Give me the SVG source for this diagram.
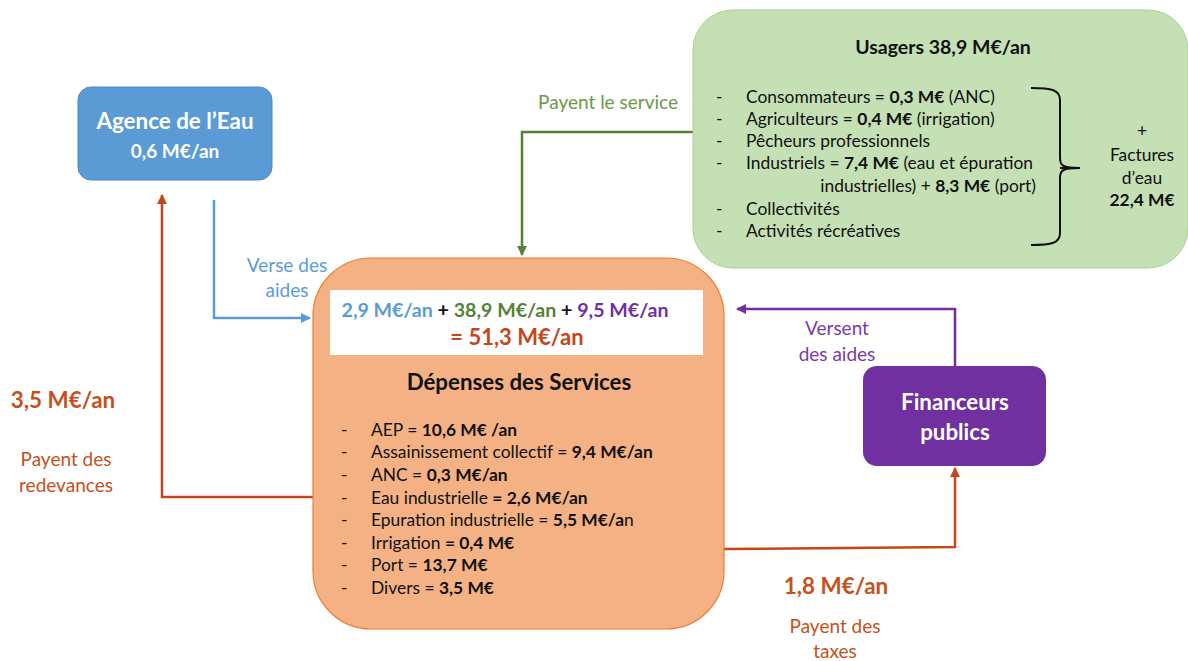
<svg xmlns="http://www.w3.org/2000/svg" width="1188" height="661" viewBox="0 0 1188 661">
<style>
text{font-family:Lato,"Open Sans","Liberation Sans",sans-serif}
.b{font-weight:bold}
.w{fill:#fff}
.k{fill:#111;font-size:17.4px}
.c{text-anchor:middle}
.red{fill:#C5501A}
.conn{fill:none;stroke-width:2.5}
</style>
<defs>
<marker id="aB" viewBox="0 0 10 10" refX="9" refY="5" markerWidth="4" markerHeight="4" orient="auto"><path d="M0,0L10,5L0,10z" fill="#5B9BD5"/></marker>
<marker id="aG" viewBox="0 0 10 10" refX="9" refY="5" markerWidth="4" markerHeight="4" orient="auto"><path d="M0,0L10,5L0,10z" fill="#538135"/></marker>
<marker id="aP" viewBox="0 0 10 10" refX="9" refY="5" markerWidth="4" markerHeight="4" orient="auto"><path d="M0,0L10,5L0,10z" fill="#7030A0"/></marker>
<marker id="aR" viewBox="0 0 10 10" refX="9" refY="5" markerWidth="4" markerHeight="4" orient="auto"><path d="M0,0L10,5L0,10z" fill="#C5461A"/></marker>
</defs>
<rect width="1188" height="661" fill="#fff"/>
<g id="connectors">
<path class="conn" d="M214,200V318H310" stroke="#5B9BD5" marker-end="url(#aB)"/>
<path class="conn" d="M693,132H522V255" stroke="#538135" marker-end="url(#aG)"/>
<path class="conn" d="M955,366V309H737" stroke="#7030A0" marker-end="url(#aP)"/>
<path class="conn" d="M313,497H162V195" stroke="#C5461A" marker-end="url(#aR)"/>
<path class="conn" d="M724,549L955,547V468" stroke="#C5461A" marker-end="url(#aR)"/>
<text x="287" y="272" class="c" font-size="19" fill="#5B9BD5">Verse des</text>
<text x="287" y="297" class="c" font-size="19" fill="#5B9BD5">aides</text>
<text x="678" y="109" font-size="19" fill="#6B9A48" text-anchor="end">Payent le service</text>
<text x="837" y="335" class="c" font-size="19" fill="#7A3AA8">Versent</text>
<text x="837" y="361" class="c" font-size="19" fill="#7A3AA8">des aides</text>
<text x="63" y="408" class="c b red" font-size="22.4">3,5 M€/an</text>
<text x="66" y="466" class="c red" font-size="19">Payent des</text>
<text x="66" y="492" class="c red" font-size="19">redevances</text>
<text x="836" y="594" class="c b red" font-size="22.4">1,8 M€/an</text>
<text x="835" y="633" class="c red" font-size="19">Payent des</text>
<text x="835" y="658" class="c red" font-size="19">taxes</text>
</g>
<g id="agence">
<rect x="78" y="87" width="194" height="93" rx="13" fill="#5B9BD5" stroke="#4A88C2" stroke-width="1"/>
<text x="175" y="129" class="c b w" font-size="22.4">Agence de l’Eau</text>
<text x="175" y="158" class="c b w" font-size="19">0,6 M€/an</text>
</g>
<g id="usagers">
<rect x="693" y="10" width="495" height="258" rx="40" fill="#C5E0B4" stroke="#A9D18E" stroke-width="1"/>
<text x="943" y="54" class="c b" font-size="19.5" fill="#111">Usagers 38,9 M€/an</text>
<g class="k">
<text x="716" y="103">-</text><text x="746" y="103">Consommateurs = <tspan class="b">0,3 M€</tspan> (ANC)</text>
<text x="716" y="125">-</text><text x="746" y="125">Agriculteurs = <tspan class="b">0,4 M€</tspan> (irrigation)</text>
<text x="716" y="147">-</text><text x="746" y="147">Pêcheurs professionnels</text>
<text x="716" y="169">-</text><text x="746" y="169">Industriels = <tspan class="b">7,4 M€</tspan> (eau et épuration</text>
<text x="1036" y="192" text-anchor="end">industrielles) + <tspan class="b">8,3 M€</tspan> (port)</text>
<text x="716" y="215">-</text><text x="746" y="215">Collectivités</text>
<text x="716" y="237">-</text><text x="746" y="237">Activités récréatives</text>
</g>
<path d="M1031,88C1052,88 1060,90 1060,100V158C1060,166 1063,168 1080,168C1063,168 1060,170 1060,178V233C1060,243 1052,245 1031,245" fill="none" stroke="#111" stroke-width="2"/>
<path d="M1060,168H1080" stroke="#111" stroke-width="2"/>
<g class="k c">
<text x="1142" y="137">+</text>
<text x="1142" y="161">Factures</text>
<text x="1142" y="184">d’eau</text>
<text x="1142" y="206" class="b">22,4 M€</text>
</g>
</g>
<g id="depenses">
<rect x="313" y="258" width="411" height="371" rx="58" fill="#F4B183" stroke="#ED7D31" stroke-width="1.2"/>
<rect x="330" y="290" width="373" height="65" fill="#fff"/>
<text x="505" y="317" class="c b" font-size="19.6"><tspan fill="#5B9BD5">2,9 M€/an</tspan><tspan fill="#111"> + </tspan><tspan fill="#548235">38,9 M€/an</tspan><tspan fill="#111"> + </tspan><tspan fill="#7030A0">9,5 M€/an</tspan></text>
<text x="517" y="345" class="c b" font-size="22" fill="#C5461A">= 51,3 M€/an</text>
<text x="519" y="390" class="c b" font-size="22.3" fill="#111">Dépenses des Services</text>
<g class="k">
<text x="341" y="436">-</text><text x="371" y="436">AEP = <tspan class="b">10,6 M€ /an</tspan></text>
<text x="341" y="458">-</text><text x="371" y="458">Assainissement collectif = <tspan class="b">9,4 M€/an</tspan></text>
<text x="341" y="481">-</text><text x="371" y="481">ANC = <tspan class="b">0,3 M€/an</tspan></text>
<text x="341" y="504">-</text><text x="371" y="504">Eau industrielle <tspan class="b">= 2,6 M€/an</tspan></text>
<text x="341" y="526">-</text><text x="371" y="526">Epuration industrielle = <tspan class="b">5,5 M€/a</tspan>n</text>
<text x="341" y="549">-</text><text x="371" y="549">Irrigation <tspan class="b">= 0,4 M€</tspan></text>
<text x="341" y="571">-</text><text x="371" y="571">Port = <tspan class="b">13,7 M€</tspan></text>
<text x="341" y="594">-</text><text x="371" y="594">Divers = <tspan class="b">3,5 M€</tspan></text>
</g>
</g>
<g id="financeurs">
<rect x="863" y="366" width="183" height="100" rx="14" fill="#7030A0"/>
<text x="955" y="410" class="c b w" font-size="22.3">Financeurs</text>
<text x="955" y="440" class="c b w" font-size="22.3">publics</text>
</g>
</svg>
